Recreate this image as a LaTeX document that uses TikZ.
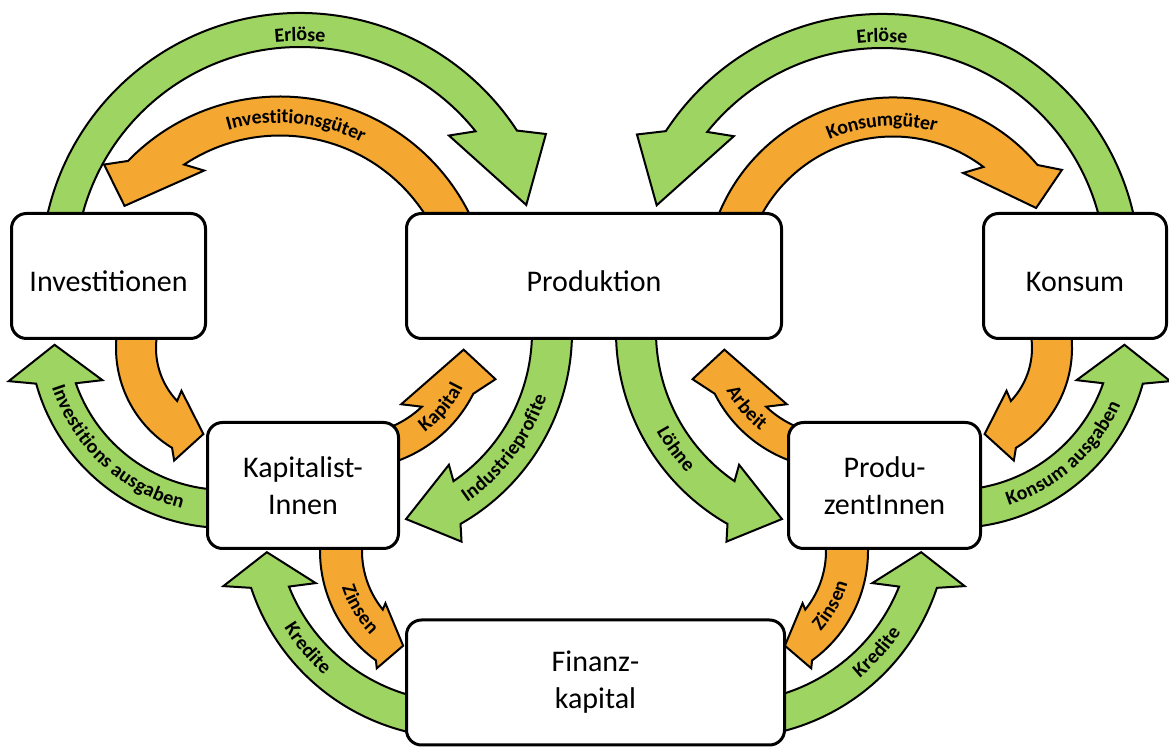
\documentclass[tikz,border=0pt]{standalone}
\usepackage{fontspec}
\setmainfont{Carlito}
\usepackage{tikz}
\usetikzlibrary{calc,decorations.text}
\definecolor{geld}{RGB}{158,212,98}
\definecolor{ware}{RGB}{244,168,50}
\newcommand{\lblfont}{\fontsize{20}{20}\selectfont\bfseries}
% curved block arrow: style, centre, radius, half band, half head, start, outer wing, inner wing, tip
\newcommand{\flow}[9]{%
 \pgfmathsetmacro{\flowa}{(#7)+((#8)-(#7))*((#5)-(#4))/(2*(#5))}%
 \pgfmathsetmacro{\flowb}{(#7)+((#8)-(#7))*((#5)+(#4))/(2*(#5))}%
 \draw[#1] ($(#2)+({#6}:{#3+#4})$) arc[start angle={#6}, end angle=\flowa, radius={#3+#4}]
  -- ($(#2)+({#7}:{#3+#5})$) -- ($(#2)+({#9}:{#3-6})$) -- ($(#2)+({#8}:{#3-#5})$)
  -- ($(#2)+({\flowb}:{#3-#4})$) arc[start angle=\flowb, end angle={#6}, radius={#3-#4}] -- cycle;}
% text along the arc: centre, radius, from, to, text
\newcommand{\flowlabel}[5]{%
 \path[decorate, decoration={text along path, text align=center, raise=-5pt,
  text={|\lblfont|#5}}] ($(#1)+({#3}:#2)$) arc[start angle={#3}, end angle={#4}, radius=#2];}

\begin{document}
\begin{tikzpicture}[x=1pt, y=1pt,
 box/.style={draw, line width=3pt, rounded corners=15pt, fill=white, align=center,
  inner sep=0pt, font=\fontsize{30}{37}\selectfont},
 oneline/.style={text height=31pt, text depth=0pt},
 money/.style={draw, line width=2pt, fill=geld},
 goods/.style={draw, line width=2pt, fill=ware}]
\useasboundingbox (0,0) rectangle (1169,749);
% centres of the arcs
\coordinate (cErlL) at (300,477);
\coordinate (cErlR) at (882,477);
\coordinate (cInvG) at (280,441);
\coordinate (cKonG) at (893,463);
\coordinate (cInvK) at (233,401);
\coordinate (cKonP) at (955,401);
\coordinate (cInvA) at (226,418);
\coordinate (cKonA) at (953,418);
\coordinate (cKap) at (351,417);
\coordinate (cArb) at (837,417);
\coordinate (cKredL) at (459,230);
\coordinate (cKredR) at (729,230);
\coordinate (cZinsL) at (455,198);
\coordinate (cZinsR) at (733,198);

\flow{money}{cErlL}{242}{17}{40}{170}{29.3}{42.5}{16.5}
\flow{money}{cErlR}{241}{17}{40}{10}{150.7}{137.5}{163.5}
\flow{goods}{cInvG}{192}{19.5}{35}{25}{140.8}{118.9}{146.7}
\flow{goods}{cKonG}{169}{19.5}{36}{158}{34.5}{58.2}{28.6}
\flow{goods}{cInvK}{97}{20}{30}{170}{242.4}{219.7}{251}
\flow{goods}{cKonP}{97}{20}{30}{10}{-62.4}{-39.7}{-71}
\flow{money}{cInvA}{178}{19}{45}{270}{193}{201.7}{184.6}
\flow{money}{cKonA}{178}{19}{45}{-90}{-13}{-21.7}{-4.6}
\flow{money}{cKap}{201}{20}{36}{3}{-62.2}{-53.6}{-73.6}
\flow{goods}{cKap}{120}{17}{32}{-80}{-18.1}{-55.2}{-8.9}
\flow{money}{cArb}{201}{20}{36}{177}{242.2}{233.6}{253.6}
\flow{goods}{cArb}{120}{17}{32}{260}{198.1}{235.2}{188.9}
\flow{money}{cKredL}{201}{18}{44}{262}{195.9}{204.1}{189.8}
\flow{money}{cKredR}{201}{18}{44}{-82}{-15.9}{-24.1}{-9.8}
\flow{goods}{cZinsL}{114}{21}{27}{172}{236.3}{216.9}{241.3}
\flow{goods}{cZinsR}{114}{21}{27}{8}{-56.3}{-36.9}{-61.3}

\node[box, oneline, minimum width=194pt, minimum height=125pt] (inv) at (108.5,473) {Investitionen};
\node[box, oneline, minimum width=375pt, minimum height=125pt] (prod) at (594,473) {Produktion};
\node[box, oneline, minimum width=183pt, minimum height=125pt] (kons) at (1075,473) {Konsum};
\node[box, minimum width=191pt, minimum height=126pt] (kap) at (303,263.5) {Kapitalist-\\Innen};
\node[box, minimum width=192pt, minimum height=126pt] (produ) at (884.5,263.5) {Produ-\\zentInnen};
\node[box, minimum width=378pt, minimum height=125pt] (fin) at (595.5,66.5) {Finanz-\\kapital};

\flowlabel{cErlL}{236}{115}{65}{Erlöse}
\flowlabel{cErlR}{235}{115}{65}{Erlöse}
\flowlabel{cInvG}{190}{130}{40}{Investitionsgüter}
\flowlabel{cKonG}{165}{139}{49}{Konsumgüter}
\flowlabel{cInvA}{178}{187}{267}{Investitions ausgaben}
\flowlabel{cKonA}{178}{-88}{-8}{Konsum ausgaben}
\flowlabel{cKap}{201}{-72}{-2}{Industrieprofite}
\flowlabel{cKap}{120}{-70}{-10}{Kapital}
\flowlabel{cArb}{201}{196}{236}{Löhne}
\flowlabel{cArb}{120}{190}{250}{Arbeit}
\flowlabel{cKredL}{201}{195}{246}{Kredite}
\flowlabel{cKredR}{201}{-68}{-16}{Kredite}
\flowlabel{cZinsL}{114}{185}{238}{Zinsen}
\flowlabel{cZinsR}{114}{-56}{-2}{Zinsen}
\end{tikzpicture}
\end{document}
